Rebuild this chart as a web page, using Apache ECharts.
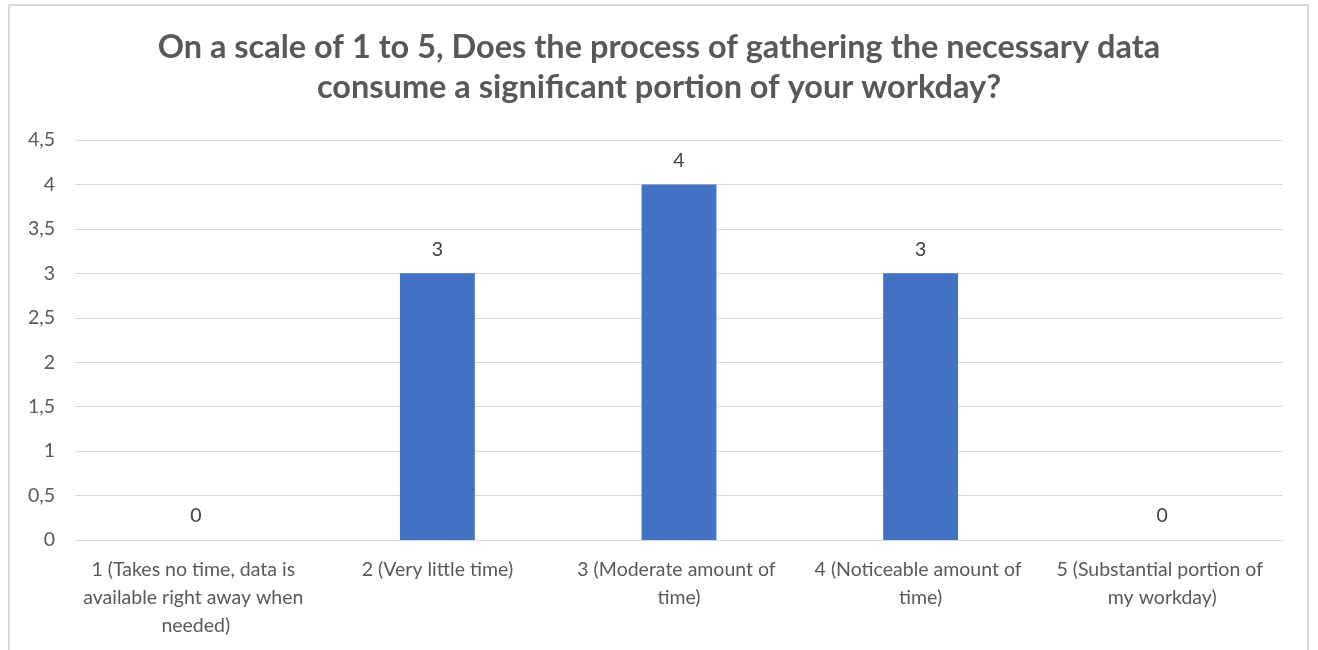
<!DOCTYPE html>
<html>
<head>
<meta charset="utf-8">
<script src="https://cdn.jsdelivr.net/npm/echarts@6/dist/echarts.min.js"></script>
<style>
    html, body { margin: 0; padding: 0; background: #fff; }
    .frame {
        position: absolute; left: 8px; top: 4px; width: 1301px; height: 680px;
        border: 2px solid #d9d9d9; box-sizing: border-box;
    }
    #chart { position: absolute; left: 0; top: 0; width: 1318px; height: 650px; }
</style>
</head>
<body>
<div class="frame"></div>
<div id="chart"></div>
<script>
const titleText = 'On a scale of 1 to 5, Does the process of gathering the necessary data\nconsume a significant portion of your workday?';
const categories = [
    '1 (Takes no time, data is available right away when needed)',
    '2 (Very little time)',
    '3 (Moderate amount of time)',
    '4 (Noticeable amount of time)',
    '5 (Substantial portion of my workday)'
];
const counts = [0, 3, 4, 3, 0];

const chart = echarts.init(document.getElementById('chart'));
const textColor = '#595959';

chart.setOption({
    animation: false,
    textStyle: { fontFamily: 'Lato' },
    title: {
        text: titleText,
        left: 'center',
        top: 23,
        textStyle: {
            fontFamily: 'Lato',
            fontSize: 32.5,
            fontWeight: 'bold',
            color: textColor,
            lineHeight: 40
        }
    },
    grid: {
        left: 75,
        right: 35,
        top: 140,
        bottom: 110
    },
    xAxis: {
        type: 'category',
        data: categories,
        axisTick: { show: false },
        axisLine: { lineStyle: { color: '#d9d9d9', width: 1 } },
        axisLabel: {
            interval: 0,
            color: textColor,
            fontSize: 19.5,
            lineHeight: 28,
            margin: 16,
            width: 232,
            overflow: 'break'
        }
    },
    yAxis: {
        type: 'value',
        min: 0,
        max: 4.5,
        interval: 0.5,
        axisLine: { show: false },
        axisTick: { show: false },
        splitLine: { lineStyle: { color: '#d9d9d9', width: 1 } },
        axisLabel: {
            color: textColor,
            fontSize: 19.5,
            margin: 20,
            formatter: v => String(v).replace('.', ',')
        }
    },
    series: [
        {
            type: 'bar',
            data: counts,
            barWidth: '31%',
            itemStyle: { color: '#4472c4' },
            label: {
                show: true,
                position: 'top',
                distance: 14,
                color: '#404040',
                fontSize: 19.5
            }
        }
    ]
});
</script>
</body>
</html>
